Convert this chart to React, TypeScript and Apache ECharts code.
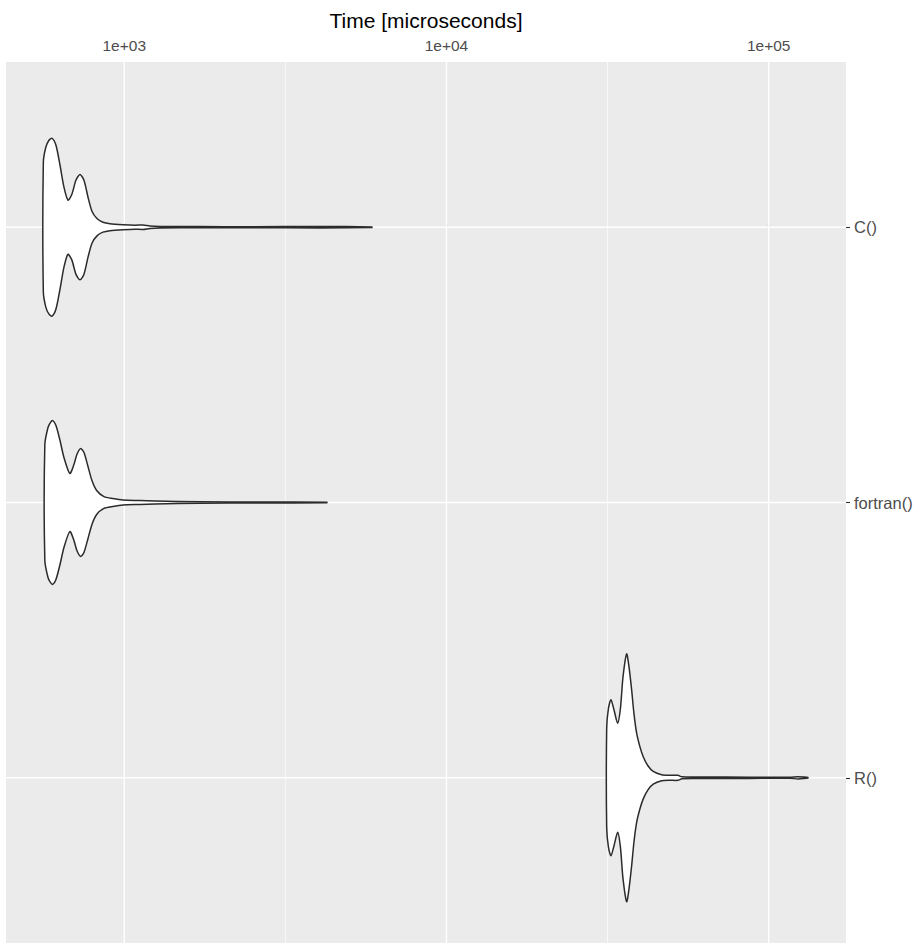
import React, { useEffect, useRef } from 'react';
import * as echarts from 'echarts';

// ---- data ----
const categories = ['C()', 'fortran()', 'R()'];
const xTitle = 'Time [microseconds]';
const majorBreaks = [1e3, 1e4, 1e5];
const majorLabels = ['1e+03', '1e+04', '1e+05'];
const minorBreaks = [3162, 31623];
const xLimits = [429.6, 173800];

// violin outlines: time (microseconds) and scaled density (max = 1)
const cTimes = [561, 571, 584, 597, 614, 632, 650, 669, 688, 708, 729, 750, 772, 794, 823, 859, 903, 991, 1080, 1143, 1202, 1291, 1718, 2455, 4046, 5873];
const cWidths = [0.524, 0.645, 0.702, 0.718, 0.661, 0.5, 0.323, 0.218, 0.266, 0.379, 0.425, 0.379, 0.242, 0.129, 0.07, 0.04, 0.028, 0.02, 0.016, 0.018, 0.01, 0.0065, 0.005, 0.004, 0.006, 0.0025];

const fortranTimes = [567, 580, 590, 600, 614, 632, 650, 678, 698, 713, 732, 750, 772, 794, 821, 865, 922, 991, 1119, 1245, 1718, 2638, 4257];
const fortranWidths = [0.468, 0.605, 0.645, 0.661, 0.621, 0.5, 0.363, 0.234, 0.306, 0.387, 0.435, 0.403, 0.29, 0.177, 0.097, 0.048, 0.032, 0.02, 0.016, 0.012, 0.0056, 0.004, 0.0025];

const rTimes = [31427, 31826, 32396, 33105, 33992, 34674, 35302, 36247, 36845, 37565, 38185, 38930, 39864, 40813, 42207, 43830, 46539, 49382, 52300, 53810, 61220, 87500, 116460, 123300, 128700, 132430];
const rWidths = [0.4, 0.56, 0.63, 0.55, 0.44, 0.56, 0.81, 1.0, 0.9, 0.71, 0.52, 0.36, 0.25, 0.17, 0.097, 0.051, 0.024, 0.02, 0.02, 0.008, 0.0065, 0.005, 0.004, 0.009, 0.006, 0.002];

const violins = [
  { times: cTimes, widths: cWidths },
  { times: fortranTimes, widths: fortranWidths },
  { times: rTimes, widths: rWidths },
];

const FONT = '"Liberation Sans", Arial, Helvetica, sans-serif';

export default function App() {
  const ref = useRef<HTMLDivElement>(null);
  useEffect(() => {
    if (!ref.current) return;
    const chart = echarts.init(ref.current, null, { renderer: 'svg' });
    const lmin = Math.log10(xLimits[0]);
    const lmax = Math.log10(xLimits[1]);
    const majorLog = majorBreaks.map((b) => Math.log10(b));
    const option: any = {
      animation: false,
      backgroundColor: '#ffffff',
      grid: {
        left: 6,
        right: 75,
        top: 62,
        bottom: 1,
        show: true,
        backgroundColor: '#EBEBEB',
        borderWidth: 0,
      },
      xAxis: {
        type: 'value',
        position: 'top',
        min: lmin,
        max: lmax,
        name: xTitle,
        nameLocation: 'middle',
        nameGap: 31,
        nameTextStyle: { color: '#000', fontSize: 21, fontFamily: FONT },
        axisLine: { show: false },
        splitLine: { show: false },
        axisTick: { show: true, length: 4, customValues: majorLog, lineStyle: { color: '#333333', width: 1.1 } },
        axisLabel: {
          customValues: majorLog,
          margin: 9,
          color: '#4D4D4D',
          fontSize: 15.5,
          fontFamily: FONT,
          formatter: (v: number) => {
            const i = majorLog.findIndex((m) => Math.abs(m - v) < 1e-6);
            return i >= 0 ? majorLabels[i] : '';
          },
        },
      },
      yAxis: {
        type: 'value',
        position: 'right',
        min: -0.6,
        max: categories.length - 0.4,
        inverse: true,
        axisLine: { show: false },
        splitLine: { show: false },
        axisTick: { show: true, length: 4, customValues: [0, 1, 2], lineStyle: { color: '#333333', width: 1.1 } },
        axisLabel: {
          customValues: [0, 1, 2],
          margin: 8,
          color: '#4D4D4D',
          fontSize: 16.5,
          fontFamily: FONT,
          formatter: (v: number) => categories[Math.round(v)] ?? '',
        },
      },
      series: [
        {
          type: 'custom',
          name: 'vgrid',
          z: 1,
          silent: true,
          data: [
            ...majorBreaks.map((b) => [Math.log10(b), 0, 1]),
            ...minorBreaks.map((b) => [Math.log10(b), 0, 0]),
          ],
          renderItem: (params: any, api: any) => {
            const x = api.coord([api.value(0), 0])[0];
            const cs = params.coordSys;
            const major = api.value(2) === 1;
            return {
              type: 'line',
              shape: { x1: x, y1: cs.y, x2: x, y2: cs.y + cs.height },
              style: { stroke: '#ffffff', lineWidth: major ? 1.4 : 0.7 },
            };
          },
        },
        {
          type: 'custom',
          name: 'hgrid',
          z: 1,
          silent: true,
          data: categories.map((_, i) => [lmin, i]),
          renderItem: (params: any, api: any) => {
            const y = api.coord([lmin, api.value(1)])[1];
            const cs = params.coordSys;
            return {
              type: 'line',
              shape: { x1: cs.x, y1: y, x2: cs.x + cs.width, y2: y },
              style: { stroke: '#ffffff', lineWidth: 1.4 },
            };
          },
        },
        {
          type: 'custom',
          name: 'violin',
          z: 3,
          silent: true,
          data: violins.map((v, i) => [Math.log10(v.times[0]), i]),
          renderItem: (params: any, api: any) => {
            const i = params.dataIndex;
            const v = violins[i];
            const upper = v.times.map((t, k) => api.coord([Math.log10(t), i - 0.45 * v.widths[k]]));
            const lower = v.times
              .map((t, k) => api.coord([Math.log10(t), i + 0.45 * v.widths[k]]))
              .reverse();
            return {
              type: 'polygon',
              shape: { points: upper.concat(lower), smooth: 0.25 },
              style: { fill: '#ffffff', stroke: '#2b2b2b', lineWidth: 1.5 },
            };
          },
        },
      ],
    };
    chart.setOption(option);
    return () => chart.dispose();
  }, []);
  return (
    <div
      ref={ref}
      style={{ position: 'fixed', left: 0, top: 0, width: 921, height: 944 }}
    />
  );
}
